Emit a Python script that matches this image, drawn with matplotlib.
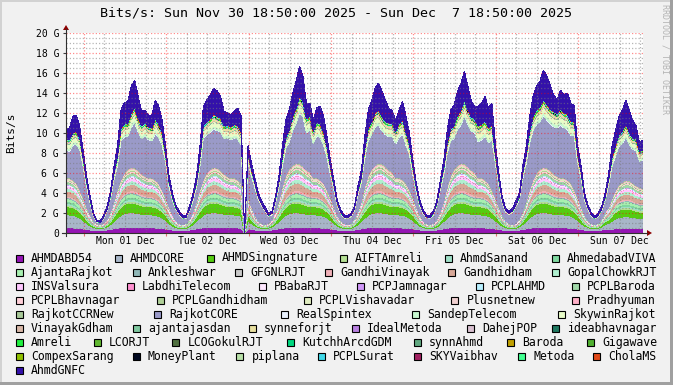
import matplotlib.pyplot as plt
import numpy as np
from matplotlib.lines import Line2D
from matplotlib.patches import Polygon, Rectangle

plt.rcParams['font.family'] = 'DejaVu Sans Mono'

W, H = 673, 385

# Gbit/s, one sample per hour from Sun Nov 30 18:50 to Sun Dec 7 18:50
ahmdabd54 = [
    .50, .50, .50, .48, .45, .40, .35, .30, .27, .25, .25, .27, .30, .35, .42, .48, .52, .55, .55, .55, .55, .55, .53, .52,
    .50, .50, .50, .48, .45, .40, .35, .30, .27, .25, .25, .27, .30, .35, .42, .48, .52, .55, .55, .55, .55, .55, .53, .52,
    .50, .50, .50, .48, 0, .40, .35, .30, .27, .25, .25, .27, .30, .35, .42, .48, .52, .55, .55, .55, .55, .55, .53, .52,
    .50, .50, .50, .48, .45, .40, .35, .30, .27, .25, .25, .27, .30, .35, .42, .48, .52, .55, .55, .55, .55, .55, .53, .52,
    .50, .50, .50, .48, .45, .40, .35, .30, .27, .25, .25, .27, .30, .35, .42, .48, .52, .55, .55, .55, .55, .55, .53, .52,
    .50, .50, .50, .48, .45, .40, .35, .30, .27, .25, .25, .27, .30, .35, .42, .48, .52, .55, .55, .55, .55, .55, .53, .52,
    .50, .50, .50, .48, .45, .40, .35, .30, .27, .25, .25, .27, .30, .35, .34, .38, .42, .44, .44, .44, .44, .44, .42, .42,
    .40]
ahmdcore = [
    1.30, 1.30, 1.25, 1.20, 1.05, .85, .60, .40, .28, .20, .18, .22, .32, .50, .75, 1.00, 1.25, 1.40, 1.45, 1.45, 1.45, 1.40, 1.35, 1.30,
    1.30, 1.30, 1.25, 1.20, 1.05, .85, .60, .40, .28, .20, .18, .22, .32, .50, .75, 1.00, 1.25, 1.40, 1.45, 1.45, 1.45, 1.40, 1.35, 1.30,
    1.30, 1.30, 1.25, 1.20, 0, .85, .60, .40, .28, .20, .18, .22, .32, .50, .75, 1.00, 1.25, 1.40, 1.45, 1.45, 1.45, 1.40, 1.35, 1.30,
    1.30, 1.30, 1.25, 1.20, 1.05, .85, .60, .40, .28, .20, .18, .22, .32, .50, .75, 1.00, 1.25, 1.40, 1.45, 1.45, 1.45, 1.40, 1.35, 1.30,
    1.30, 1.30, 1.25, 1.20, 1.05, .85, .60, .40, .28, .20, .18, .22, .32, .50, .75, 1.00, 1.25, 1.40, 1.45, 1.45, 1.45, 1.40, 1.35, 1.30,
    1.30, 1.30, 1.25, 1.20, 1.05, .85, .60, .40, .28, .20, .18, .22, .32, .50, .75, 1.00, 1.25, 1.40, 1.45, 1.45, 1.45, 1.40, 1.35, 1.30,
    1.30, 1.30, 1.25, 1.20, 1.05, .85, .60, .40, .28, .20, .18, .22, .32, .50, .60, .80, 1.00, 1.12, 1.16, 1.16, 1.16, 1.12, 1.08, 1.04,
    1.04]
ahmdsingnature = [
    .80, .80, .78, .70, .60, .50, .35, .20, .12, .08, .07, .09, .15, .28, .45, .65, .80, .90, .95, 1.00, .95, .90, .85, .80,
    .80, .80, .78, .70, .60, .50, .35, .20, .12, .08, .07, .09, .15, .28, .45, .65, .80, .90, .95, 1.00, .95, .90, .85, .80,
    .80, .80, .78, .70, 0, .50, .35, .20, .12, .08, .07, .09, .15, .28, .45, .65, .80, .90, .95, 1.00, .95, .90, .85, .80,
    .80, .80, .78, .70, .60, .50, .35, .20, .12, .08, .07, .09, .15, .28, .45, .65, .80, .90, .95, 1.00, .95, .90, .85, .80,
    .80, .80, .78, .70, .60, .50, .35, .20, .12, .08, .07, .09, .15, .28, .45, .65, .80, .90, .95, 1.00, .95, .90, .85, .80,
    .80, .80, .78, .70, .60, .50, .35, .20, .12, .08, .07, .09, .15, .28, .45, .65, .80, .90, .95, 1.00, .95, .90, .85, .80,
    .80, .80, .78, .70, .60, .50, .35, .20, .12, .08, .07, .09, .15, .28, .36, .52, .64, .72, .76, .80, .76, .72, .68, .64,
    .64]
# sum of the light green feeds AIFTAmreli .. GFGNLRJT
low_band = [
    .95, .95, .90, .85, .75, .60, .45, .30, .20, .15, .12, .15, .22, .35, .55, .75, .90, 1.00, 1.05, 1.10, 1.10, 1.05, 1.00, 1.00,
    .95, .95, .90, .85, .75, .60, .45, .30, .20, .15, .12, .15, .22, .35, .55, .75, .90, 1.00, 1.05, 1.10, 1.10, 1.05, 1.00, 1.00,
    .95, .95, .90, .85, 0, .60, .45, .30, .20, .15, .12, .15, .22, .35, .55, .75, .90, 1.00, 1.05, 1.10, 1.10, 1.05, 1.00, 1.00,
    .95, .95, .90, .85, .75, .60, .45, .30, .20, .15, .12, .15, .22, .35, .55, .75, .90, 1.00, 1.05, 1.10, 1.10, 1.05, 1.00, 1.00,
    .95, .95, .90, .85, .75, .60, .45, .30, .20, .15, .12, .15, .22, .35, .55, .75, .90, 1.00, 1.05, 1.10, 1.10, 1.05, 1.00, 1.00,
    .95, .95, .90, .85, .75, .60, .45, .30, .20, .15, .12, .15, .22, .35, .55, .75, .90, 1.00, 1.05, 1.10, 1.10, 1.05, 1.00, 1.00,
    .95, .95, .90, .85, .75, .60, .45, .30, .20, .15, .12, .15, .22, .35, .44, .60, .72, .80, .84, .88, .88, .84, .80, .80,
    .76]
# sum of GandhiVinayak .. RajkotCCRNew
mid_band = [
    2.0, 2.0, 1.9, 1.8, 1.5, 1.2, .9, .6, .35, .25, .20, .25, .40, .65, 1.0, 1.5, 1.9, 2.2, 2.4, 2.5, 2.5, 2.4, 2.2, 2.1,
    2.0, 2.0, 1.9, 1.8, 1.5, 1.2, .9, .6, .35, .25, .20, .25, .40, .65, 1.0, 1.5, 1.9, 2.2, 2.4, 2.5, 2.5, 2.4, 2.2, 2.1,
    2.0, 2.0, 1.9, 1.8, 0, 1.2, .9, .6, .35, .25, .20, .25, .40, .65, 1.0, 1.8, 2.3, 2.6, 2.8, 2.9, 2.9, 2.8, 2.6, 2.5,
    2.0, 2.0, 1.9, 1.8, 1.5, 1.2, .9, .6, .35, .25, .20, .25, .40, .65, 1.0, 1.8, 2.3, 2.6, 2.8, 2.9, 2.9, 2.8, 2.6, 2.5,
    2.0, 2.0, 1.9, 1.8, 1.5, 1.2, .9, .6, .35, .25, .20, .25, .40, .65, 1.0, 1.8, 2.3, 2.6, 2.8, 2.9, 2.9, 2.8, 2.6, 2.5,
    2.0, 2.0, 1.9, 1.8, 1.5, 1.2, .9, .6, .35, .25, .20, .25, .40, .65, 1.0, 1.5, 1.9, 2.2, 2.4, 2.5, 2.5, 2.4, 2.2, 2.1,
    2.0, 2.0, 1.9, 1.8, 1.5, 1.2, .9, .6, .35, .25, .20, .25, .40, .65, .80, 1.20, 1.52, 1.76, 1.92, 2.00, 2.00, 1.92, 1.76, 1.68,
    1.6]
rajkotcore = [
    2.74, 2.63, 3.44, 3.82, 3.99, 3.09, 1.97, 1.23, 0.46, 0.16, 0.18, 0.51, 0.88, 1.40, 2.19, 2.40, 3.85, 3.57, 3.24, 3.98, 4.47, 3.84, 3.47, 4.00,
    3.77, 3.65, 4.65, 4.49, 4.47, 3.41, 1.97, 1.48, 1.13, 0.92, 0.59, 0.51, 0.88, 1.15, 1.39, 2.32, 4.15, 3.79, 3.67, 3.84, 3.67, 3.84, 3.47, 3.76,
    3.77, 3.97, 4.04, 3.74, 0, 3.49, 3.02, 2.71, 2.14, 1.76, 1.34, 0.68, 0.46, 0.90, 1.39, 2.02, 2.70, 2.65, 3.42, 3.94, 5.07, 4.92, 3.68, 4.15,
    3.38, 4.19, 4.19, 3.74, 3.21, 2.29, 1.64, 0.91, 0.71, 0.58, 0.59, 0.68, 0.88, 1.72, 1.87, 2.79, 3.45, 3.39, 3.78, 3.80, 3.27, 3.14, 3.29, 3.52,
    3.38, 4.05, 4.57, 3.74, 3.45, 2.29, 1.40, 0.91, 0.71, 0.58, 0.67, 0.85, 1.38, 2.22, 2.67, 3.25, 3.45, 3.02, 3.57, 3.80, 4.71, 4.18, 3.84, 3.91,
    3.55, 3.75, 4.37, 3.97, 4.95, 3.45, 2.21, 1.23, 0.88, 0.92, 1.25, 1.68, 1.97, 3.36, 3.79, 4.63, 4.90, 4.83, 4.70, 5.14, 4.75, 4.65, 4.69, 4.79,
    5.25, 4.95, 5.02, 4.74, 5.35, 3.41, 2.78, 1.48, 1.13, 0.75, 0.59, 0.68, 0.88, 1.15, 2.26, 3.20, 3.42, 3.82, 3.86, 4.30, 3.62, 3.32, 3.50, 2.53,
    2.91]
# sum of RealSpintex .. CholaMS
up_band = [
    1.16, 1.16, 1.29, 1.30, 1.18, 0.83, 0.51, 0.30, 0.12, 0.07, 0.06, 0.11, 0.16, 0.34, 0.60, 0.88, 1.23, 1.30, 1.32, 1.47, 1.53, 1.37, 1.34, 1.35,
    1.30, 1.30, 1.46, 1.40, 1.24, 0.87, 0.51, 0.32, 0.17, 0.11, 0.09, 0.11, 0.16, 0.32, 0.51, 0.87, 1.27, 1.33, 1.38, 1.45, 1.42, 1.37, 1.34, 1.32,
    1.30, 1.34, 1.38, 1.29, 0, 0.88, 0.63, 0.44, 0.24, 0.16, 0.13, 0.12, 0.13, 0.30, 0.51, 0.87, 1.13, 1.23, 1.40, 1.52, 1.67, 1.57, 1.43, 1.43,
    1.24, 1.38, 1.40, 1.29, 1.07, 0.73, 0.48, 0.26, 0.14, 0.09, 0.09, 0.12, 0.16, 0.38, 0.57, 0.97, 1.23, 1.33, 1.45, 1.50, 1.42, 1.33, 1.38, 1.34,
    1.24, 1.35, 1.45, 1.29, 1.10, 0.73, 0.45, 0.26, 0.14, 0.09, 0.09, 0.13, 0.20, 0.42, 0.66, 1.03, 1.23, 1.28, 1.42, 1.50, 1.62, 1.47, 1.45, 1.40,
    1.60, 1.60, 1.60, 1.50, 1.50, 0.90, 0.54, 0.30, 0.15, 0.11, 0.13, 0.19, 0.24, 0.54, 0.78, 1.17, 1.37, 1.47, 1.52, 1.63, 1.57, 1.48, 1.52, 1.46,
    1.60, 1.50, 1.55, 1.43, 1.40, 0.87, 0.60, 0.32, 0.17, 0.10, 0.09, 0.12, 0.16, 0.32, 0.54, 0.87, 1.03, 1.17, 1.23, 1.33, 1.23, 1.13, 1.18, 0.99,
    1.02]
ahmdgnfc = [
    1.05, 1.16, 1.64, 1.65, 1.18, 0.83, 0.57, 0.37, 0.20, 0.14, 0.14, 0.20, 0.27, 0.43, 0.74, 1.14, 1.85, 2.08, 2.24, 2.65, 2.75, 2.19, 1.46, 1.23,
    1.18, 1.30, 1.86, 1.78, 1.24, 0.87, 0.57, 0.40, 0.28, 0.24, 0.20, 0.20, 0.27, 0.40, 0.63, 1.13, 1.91, 2.13, 2.35, 2.61, 2.56, 2.19, 1.46, 1.20,
    1.18, 1.34, 1.75, 1.64, 0, 0.88, 0.70, 0.55, 0.40, 0.35, 0.31, 0.22, 0.22, 0.37, 0.63, 1.13, 1.70, 1.97, 2.38, 2.74, 3.01, 2.51, 1.56, 1.30,
    1.13, 1.38, 1.78, 1.64, 1.07, 0.73, 0.53, 0.33, 0.23, 0.20, 0.20, 0.22, 0.27, 0.47, 0.69, 1.26, 1.85, 2.13, 2.47, 2.70, 2.56, 2.13, 1.50, 1.22,
    1.13, 1.35, 1.85, 1.64, 1.10, 0.73, 0.50, 0.33, 0.23, 0.20, 0.22, 0.24, 0.33, 0.53, 0.80, 1.34, 1.85, 2.05, 2.41, 2.70, 2.92, 2.35, 1.58, 1.27,
    2.00, 2.10, 2.40, 2.00, 2.20, 1.10, 0.60, 0.37, 0.25, 0.24, 0.30, 0.35, 0.40, 0.67, 0.96, 1.52, 2.06, 2.35, 2.58, 2.93, 2.83, 2.37, 1.66, 1.33,
    1.90, 1.80, 2.10, 1.80, 1.60, 0.87, 0.67, 0.40, 0.28, 0.22, 0.20, 0.22, 0.27, 0.40, 0.66, 1.13, 1.55, 1.87, 2.09, 2.39, 2.21, 1.81, 1.28, 0.90,
    0.93]

# small feeds, as share of their band
low_names = ['AIFTAmreli', 'AhmdSanand', 'AhmedabadVIVA', 'AjantaRajkot', 'Ankleshwar', 'GFGNLRJT']
low_share = [.18, .17, .20, .30, .10, .05]
low_colors = ['#b4e094', '#a0e0c8', '#80d8a0', '#a8f0b0', '#90b8b8', '#c8c8c8']

mid_names = ['GandhiVinayak', 'Gandhidham', 'GopalChowkRJT', 'INSValsura', 'LabdhiTelecom', 'PBabaRJT',
             'PCPJamnagar', 'PCPLAHMD', 'PCPLBaroda', 'PCPLBhavnagar', 'PCPLGandhidham', 'PCPLVishavadar',
             'Plusnetnew', 'Pradhyuman', 'RajkotCCRNew']
mid_share = [.06, .25, .14, .10, .02, .05, .01, .03, .12, .05, .04, .04, .03, .03, .03]
mid_colors = ['#f0b0b8', '#d8a898', '#b0f0d0', '#ffc8ff', '#ff90d0', '#ffe8ff', '#d098f8', '#b8f0ff',
              '#a0d8a8', '#ffd0d8', '#b0d098', '#e0ecc0', '#f0d0d0', '#ffb0c8', '#a8c898']

up_names = ['RealSpintex', 'SandepTelecom', 'SkywinRajkot', 'VinayakGdham', 'ajantajasdan', 'synneforjt',
            'IdealMetoda', 'DahejPOP', 'ideabhavnagar', 'Amreli', 'LCORJT', 'LCOGokulRJT', 'KutchhArcdGDM',
            'synnAhmd', 'Baroda', 'Gigawave', 'CompexSarang', 'MoneyPlant', 'piplana', 'PCPLSurat',
            'SKYVaibhav', 'Metoda', 'CholaMS']
up_share = [.03, .19, .32, .05, .04, .14, .01, .02, .01, .02, .01, .01, .02, .01, .01, .01, .01, .005,
            .02, .015, .01, .02, .02]
up_colors = ['#e8f0fc', '#c8f8d0', '#e8fcc8', '#d8b8a8', '#80c8a0', '#e8e0a0', '#b880e0', '#d8c0d0',
             '#207860', '#20f040', '#60b830', '#507040', '#00d880', '#60a880', '#c0a000', '#50b030',
             '#90c000', '#000820', '#b8e0a8', '#40d8e8', '#a02060', '#40ff90', '#e04818']

day_labels = ['Mon 01 Dec', 'Tue 02 Dec', 'Wed 03 Dec', 'Thu 04 Dec', 'Fri 05 Dec', 'Sat 06 Dec', 'Sun 07 Dec']

# build the 49 series in legend / stacking order
names, values, colors = [], [], []
names += ['AHMDABD54', 'AHMDCORE', 'AHMDSingnature']
values += [np.array(ahmdabd54), np.array(ahmdcore), np.array(ahmdsingnature)]
colors += ['#9414b4', '#a8b6c8', '#55cc11']
for n, s, c in zip(low_names, low_share, low_colors):
    names.append(n); values.append(np.array(low_band) * s); colors.append(c)
for n, s, c in zip(mid_names, mid_share, mid_colors):
    names.append(n); values.append(np.array(mid_band) * s); colors.append(c)
names.append('RajkotCORE'); values.append(np.array(rajkotcore)); colors.append('#9a9ac8')
for n, s, c in zip(up_names, up_share, up_colors):
    names.append(n); values.append(np.array(up_band) * s); colors.append(c)
names.append('AhmdGNFC'); values.append(np.array(ahmdgnfc)); colors.append('#3311aa')

hours = np.arange(len(ahmdgnfc))

def fx(px):
    return px / W

def fy(py):
    return 1 - py / H

fig = plt.figure(figsize=(W / 100, H / 100), dpi=100, facecolor='#f1f1f1')
ax = fig.add_axes([fx(66), fy(233), 577 / W, 200 / H])
ax.set_facecolor('white')

polys = ax.stackplot(hours, *values, colors=colors, linewidth=0)
for p in polys:
    p.set_antialiased(False)

ax.set_xlim(0, 168)
ax.set_ylim(0, 20)

first_midnight = 5 + 10 / 60
midnights = [first_midnight + 24 * k for k in range(7)]
six_hours = [first_midnight + 6 * k for k in range(28)]
ax.set_xticks(midnights)
ax.set_xticks(six_hours, minor=True)
ax.set_xticklabels([])
ax.set_yticks(np.arange(0, 21, 2))
ax.set_yticklabels(['0'] + [f'{v} G' for v in range(2, 21, 2)])
ax.set_yticks(np.arange(0, 20.01, 0.5), minor=True)

ax.set_axisbelow(False)
ax.grid(which='major', color='#ff0000', alpha=0.45, lw=0.9, ls=(0, (1, 1.6)))
ax.grid(which='minor', color='#7a7a7a', alpha=0.55, lw=0.9, ls=(0, (1, 1.6)))
for s in ax.spines.values():
    s.set_visible(False)
ax.tick_params(which='minor', length=0)
ax.tick_params(axis='y', which='major', length=2, pad=3, labelsize=7, color='#404040')
ax.tick_params(axis='x', which='major', length=2, color='#e07070')

for k, lab in enumerate(day_labels):
    ax.text(midnights[k] + 12, -0.04, lab, transform=ax.get_xaxis_transform(),
            ha='center', va='center', fontsize=7)

# axes with arrows
fig.add_artist(Line2D([fx(62), fx(647)], [fy(233), fy(233)], color='#303030', lw=0.8))
fig.add_artist(Line2D([fx(66), fx(66)], [fy(236), fy(29)], color='#303030', lw=0.8))
fig.add_artist(Polygon([(fx(647), fy(230)), (fx(652), fy(233)), (fx(647), fy(236))],
                       closed=True, color='#8b0000', lw=0))
fig.add_artist(Polygon([(fx(63), fy(30)), (fx(66), fy(25)), (fx(69), fy(30))],
                       closed=True, color='#8b0000', lw=0))

fig.text(0.5, fy(13), 'Bits/s: Sun Nov 30 18:50:00 2025 - Sun Dec  7 18:50:00 2025',
         ha='center', va='center', fontsize=9.6)
fig.text(fx(11), fy(133), 'Bits/s', rotation=90, ha='center', va='center', fontsize=8)
fig.text(fx(665), fy(4), 'RRDTOOL / TOBI OETIKER', rotation=270, ha='center', va='top',
         fontsize=6, color='#b4b4b4')

# legend, flowed in rows like rrdtool
legend_x = [
    [31, 130, 222, 355, 460, 567],
    [31, 148, 250, 340, 463, 567],
    [31, 142, 274, 372, 491, 587],
    [31, 172, 319, 467, 587],
    [31, 169, 296, 427, 573],
    [31, 148, 264, 367, 482, 567],
    [31, 109, 188, 302, 429, 522, 602],
    [31, 148, 252, 333, 429, 533, 608],
    [31],
]
k = 0
for r, row in enumerate(legend_x):
    y = 258 + 14.1 * r
    for x in row:
        fig.add_artist(Rectangle((fx(x - 15.5), fy(y + 3.5)), 7 / W, 7 / H,
                                 facecolor=colors[k], edgecolor='black', lw=0.8))
        fig.text(fx(x), fy(y), names[k], ha='left', va='center', fontsize=8.3)
        k += 1

# 3d frame of the image
fig.add_artist(Rectangle((0, fy(2)), 1, 2 / H, color='#d2d2d2', lw=0))
fig.add_artist(Rectangle((0, 0), 2 / W, 1, color='#d2d2d2', lw=0))
fig.add_artist(Rectangle((0, 0), 1, 3 / H, color='#a0a0a0', lw=0))
fig.add_artist(Rectangle((fx(670), 0), 3 / W, 1, color='#a0a0a0', lw=0))

fig.savefig('out.png', dpi=100, facecolor=fig.get_facecolor())
